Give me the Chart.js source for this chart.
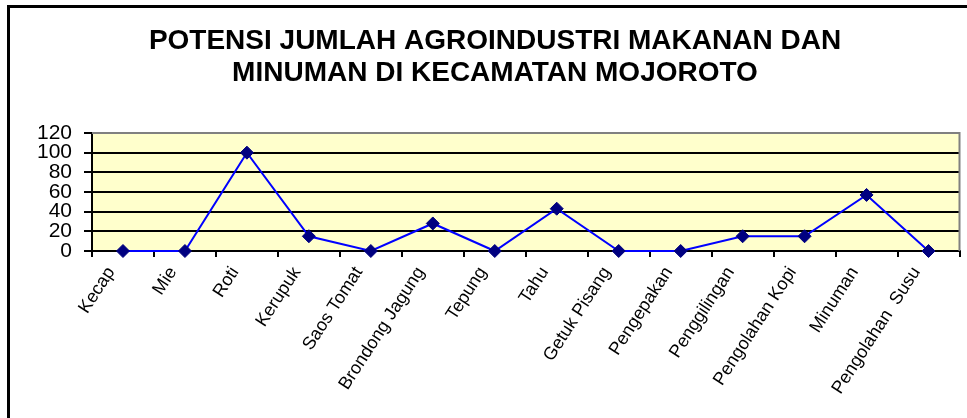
<!DOCTYPE html>
<html>
<head>
<meta charset="utf-8">
<script src="https://cdn.jsdelivr.net/npm/chart.js@4.4.1/dist/chart.umd.min.js"></script>
<style>
  html, body { margin: 0; padding: 0; background: #ffffff; overflow: hidden; }
  #wrap { position: relative; width: 967px; height: 418px; }
  #frame { position: absolute; left: 7px; top: 5px; width: 1200px; height: 800px; border: 3px solid #000; box-sizing: border-box; pointer-events: none; }
  canvas { position: absolute; left: 0; top: 0; }
</style>
</head>
<body>
<div id="wrap">
  <canvas id="c" width="967" height="418"></canvas>
  <div id="frame"></div>
</div>
<script>
const titleLines = ['POTENSI JUMLAH AGROINDUSTRI MAKANAN DAN', 'MINUMAN DI KECAMATAN MOJOROTO'];
const categories = ['Kecap', 'Mie', 'Roti', 'Kerupuk', 'Saos Tomat', 'Brondong Jagung', 'Tepung', 'Tahu', 'Getuk Pisang', 'Pengepakan', 'Penggilingan', 'Pengolahan Kopi', 'Minuman', 'Pengolahan  Susu'];
const values = [0, 0, 100, 15, 0, 28, 0, 43, 0, 0, 15, 15, 57, 0];
const yTicks = [0, 20, 40, 60, 80, 100, 120];

const plotBg = {
  id: 'plotBg',
  beforeDraw(chart) {
    const { ctx, chartArea: a } = chart;
    ctx.save();
    ctx.fillStyle = '#FFFFCC';
    ctx.fillRect(a.left, a.top, a.right - a.left, a.bottom - a.top);
    ctx.restore();
  },
  beforeDatasetsDraw(chart) {
    const { ctx, chartArea: a } = chart;
    ctx.save();
    ctx.strokeStyle = '#808080';
    ctx.lineWidth = 2;
    ctx.beginPath();
    ctx.moveTo(a.left, a.top);
    ctx.lineTo(a.right, a.top);
    ctx.lineTo(a.right, a.bottom);
    ctx.stroke();
    ctx.restore();
  }
};

new Chart(document.getElementById('c'), {
  type: 'line',
  data: {
    labels: categories,
    datasets: [{
      data: values,
      borderColor: '#0000FF',
      borderWidth: 2,
      pointStyle: 'rectRot',
      pointRadius: 6.5,
      pointBackgroundColor: '#000080',
      pointBorderColor: '#000080',
      pointBorderWidth: 1,
      tension: 0,
      clip: false
    }]
  },
  options: {
    responsive: false,
    animation: false,
    layout: { padding: { left: 27, right: 4, top: 0, bottom: 0 } },
    plugins: {
      legend: { display: false },
      tooltip: { enabled: false },
      title: {
        display: true,
        text: titleLines,
        color: '#000',
        font: { family: 'Liberation Sans, Arial, sans-serif', size: 28, weight: 'bold', lineHeight: 32 / 28 },
        padding: { top: 25, bottom: 44 }
      }
    },
    scales: {
      x: {
        offset: true,
        grid: { display: true, drawOnChartArea: false, offset: true, color: '#000', lineWidth: 2, tickLength: 6 },
        border: { display: true, color: '#000', width: 2 },
        ticks: {
          autoSkip: false,
          maxRotation: 57,
          minRotation: 57,
          padding: 6,
          labelOffset: -12,
          color: '#000',
          font: { family: 'Liberation Sans, Arial, sans-serif', size: 18 }
        },
        afterFit(scale) { scale.height = 418 - 251; }
      },
      y: {
        min: 0,
        max: 120,
        afterBuildTicks(scale) { scale.ticks = yTicks.map(v => ({ value: v })); },
        grid: { color: '#000', lineWidth: 2, tickLength: 8, drawTicks: true },
        border: { display: true, color: '#000', width: 2 },
        ticks: {
          autoSkip: false,
          padding: 12,
          color: '#000',
          font: { family: 'Liberation Sans, Arial, sans-serif', size: 21 }
        },
        afterFit(scale) { scale.width = 92 - 27; }
      }
    }
  },
  plugins: [plotBg]
});
</script>
</body>
</html>
